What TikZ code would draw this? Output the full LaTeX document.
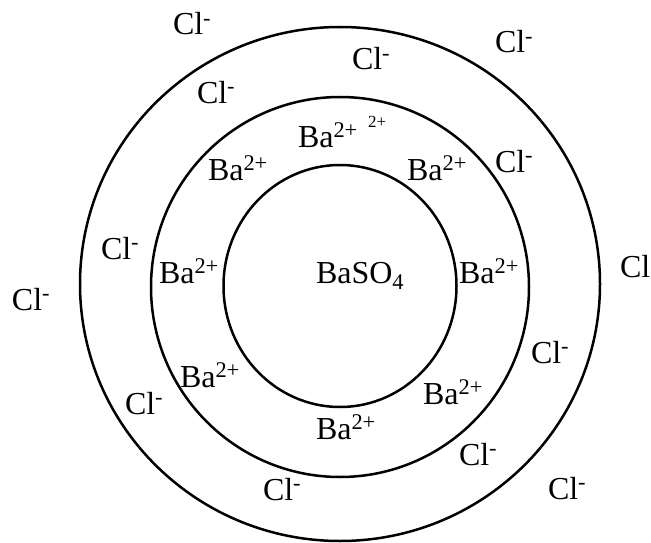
\documentclass[tikz,border=0pt]{standalone}
\usepackage{fontspec}
\setmainfont{Liberation Serif}
\newcommand{\ionCl}{Cl\textsuperscript{-}}
\newcommand{\ionBa}{Ba\textsuperscript{2+}}
\begin{document}
\begin{tikzpicture}[x=1pt,y=-1pt,
  lbl/.style={anchor=base west, inner sep=0pt, outer sep=0pt, font=\fontsize{32}{32}\selectfont},
  ring/.style={draw=black, line width=2.5pt}]
\useasboundingbox (0,0) rectangle (651,543);
% rings
\draw[ring] (340,286) ellipse [x radius=116.5pt, y radius=121pt];
\draw[ring] (340,287) ellipse [x radius=189pt, y radius=190pt];
\draw[ring] (340,284) ellipse [x radius=260pt, y radius=257pt];
% centre
\node[lbl] (core) at (316,283) {BaSO\textsubscript{4}};
% Ba ions
\node[lbl] (ba1) at (298,147) {\ionBa};
\node[anchor=base west, inner sep=0pt, font=\fontsize{17}{17}\selectfont] (ba1x) at (368,128) {2+};
\node[lbl] (ba2) at (208,180) {\ionBa};
\node[lbl] (ba3) at (407,180) {\ionBa};
\node[lbl] (ba4) at (159,283) {\ionBa};
\node[lbl] (ba5) at (459,283) {\ionBa};
\node[lbl] (ba6) at (180,387) {\ionBa};
\node[lbl] (ba7) at (423,404) {\ionBa};
\node[lbl] (ba8) at (316,439) {\ionBa};
% Cl ions
\node[lbl] (cl1) at (173,35) {\ionCl};
\node[lbl] (cl2) at (495,53) {\ionCl};
\node[lbl] (cl3) at (352,70) {\ionCl};
\node[lbl] (cl4) at (197,103) {\ionCl};
\node[lbl] (cl5) at (495,172) {\ionCl};
\node[lbl] (cl6) at (101,259) {\ionCl};
\node[lbl] (cl7) at (12,310) {\ionCl};
\node[lbl] (cl8) at (620,277) {Cl};
\node[lbl] (cl9) at (531,363) {\ionCl};
\node[lbl] (cl10) at (125,414) {\ionCl};
\node[lbl] (cl11) at (459,465) {\ionCl};
\node[lbl] (cl12) at (263,500) {\ionCl};
\node[lbl] (cl13) at (548,499) {\ionCl};
\end{tikzpicture}
\end{document}
